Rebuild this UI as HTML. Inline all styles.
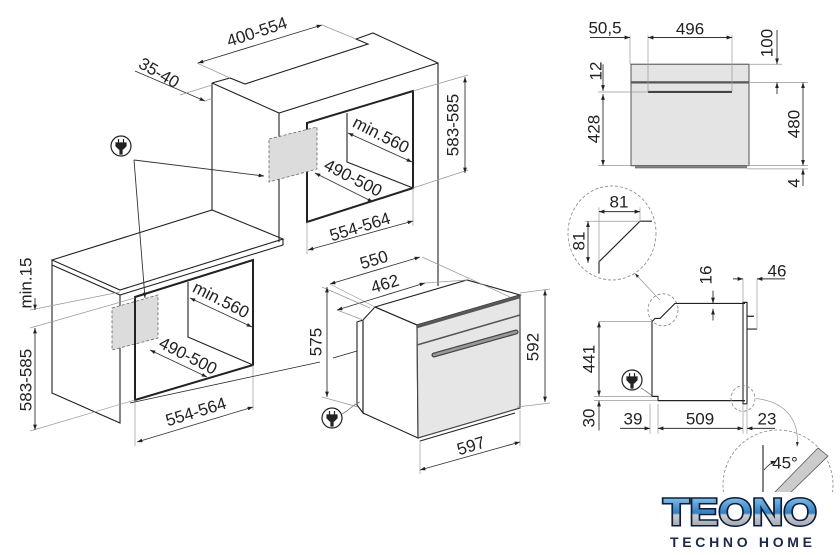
<!DOCTYPE html>
<html><head><meta charset="utf-8"><style>
html,body{margin:0;padding:0;background:#fff;}
svg{display:block;}
text{font-family:"Liberation Sans",sans-serif;font-size:17px;fill:#222;text-anchor:middle;dominant-baseline:central;}
.o{fill:none;stroke:#222;stroke-width:1.1;}
.t{fill:none;stroke:#222;stroke-width:2;}
.d{fill:none;stroke:#333;stroke-width:0.9;}
.e{fill:none;stroke:#999;stroke-width:0.7;}
.g{fill:#dcdcdc;stroke:#666;stroke-width:0.8;stroke-dasharray:3,2;}
.c{fill:none;stroke:#888;stroke-width:0.8;stroke-dasharray:3,2;}
</style></head><body>
<svg width="840" height="555" viewBox="0 0 840 555" xmlns="http://www.w3.org/2000/svg">
<defs>
<marker id="a" viewBox="0 0 10 10" refX="10" refY="5" markerWidth="6" markerHeight="6" orient="auto-start-reverse"><path d="M0,1.5 L10,5 L0,8.5 Z" fill="#222"/></marker>
<linearGradient id="lg" x1="0" y1="0" x2="0" y2="1"><stop offset="0" stop-color="#9fd3f5"/><stop offset="0.5" stop-color="#2f7fc0"/><stop offset="0.55" stop-color="#c9ccd0"/><stop offset="1" stop-color="#8a9096"/></linearGradient>
<g id="plug"><circle r="10" fill="#fff" stroke="#222" stroke-width="1.2"/><path d="M-2.5,-7 v4 M2.5,-7 v4 M-5,-3 h10 v3 l-3,3 h-4 l-3,-3 z M-1,3 v5 h2 v-5" fill="#222" stroke="#222" stroke-width="1.2"/></g>
</defs>

<!-- upper cabinet -->
<path class="o" d="M212,83 L230,78 L245,84 L368,44 L356,39 L373,33 L438,63 L438,286"/>
<path class="o" d="M212,83 L279,113 L438,63 M212,83 L212,210 M279,113 L279,242"/>
<polygon class="t" points="307,123 413,91 413,188 307,222"/>
<path class="o" d="M347,113 L347,162 L413,188"/>
<polygon class="g" points="269,139 317,127 317,169 269,182"/>

<!-- countertop + lower cabinet -->
<path class="o" d="M52,260 L212,210 L283,239 L120,290 Z M52,260 L52,265 L120,295 L283,245 L283,239"/>
<path class="o" d="M52,265 L52,393 L120,423 L120,295"/>
<polygon class="g" points="112,308 158,295 158,338 112,350"/>
<polygon class="t" points="135,297 253,260 253,365 135,400"/>
<path class="o" d="M188,282 L188,337 L253,365"/>

<use href="#plug" x="121" y="146"/>
<path class="d" d="M134,160 L264,176" marker-end="url(#a)"/>
<path class="d" d="M134,160 L145,298" marker-end="url(#a)"/>

<!-- upper dims -->
<path class="e" d="M197,63 L230,78 M322,25 L356,39"/>
<path class="d" d="M198,63 L322,25" marker-start="url(#a)" marker-end="url(#a)"/>
<text x="257" y="32" transform="rotate(-18 257 32)">400-554</text>
<path class="d" d="M135,71 L205,101" marker-end="url(#a)"/>
<path class="e" d="M180,95 L212,85 M205,101 L213,98"/>
<text x="159" y="73" transform="rotate(30 159 73)">35-40</text>
<path class="e" d="M413,91 L468,75 M413,188 L468,170"/>
<path class="d" d="M465,77 L465,173" marker-start="url(#a)" marker-end="url(#a)"/>
<text x="453" y="125" transform="rotate(-90 453 125)">583-585</text>
<path class="d" d="M348,133 L412,162" marker-start="url(#a)" marker-end="url(#a)"/>
<text x="381" y="135" transform="rotate(27 381 135)">min.560</text>
<path class="d" d="M315,173 L373,202" marker-start="url(#a)" marker-end="url(#a)"/>
<text x="353" y="178" transform="rotate(27 353 178)">490-500</text>
<path class="e" d="M307,222 L307,254 M413,188 L413,226"/>
<path class="d" d="M308,250 L413,221" marker-start="url(#a)" marker-end="url(#a)"/>
<text x="360" y="227" transform="rotate(-17 360 227)">554-564</text>

<!-- lower dims -->
<path class="e" d="M30,310 L120,292 M30,328 L135,298 M30,431 L135,400"/>
<path class="d" d="M35,298 L35,310" marker-end="url(#a)"/>
<path class="d" d="M35,328 L35,430" marker-start="url(#a)" marker-end="url(#a)"/>
<text x="26" y="283" transform="rotate(-90 26 283)">min.15</text>
<text x="26" y="380" transform="rotate(-90 26 380)">583-585</text>
<path class="d" d="M190,298 L252,327" marker-start="url(#a)" marker-end="url(#a)"/>
<text x="221" y="300" transform="rotate(27 221 300)">min.560</text>
<path class="d" d="M150,350 L207,377" marker-start="url(#a)" marker-end="url(#a)"/>
<text x="188" y="356" transform="rotate(27 188 356)">490-500</text>
<path class="e" d="M135,400 L135,446 M253,365 L253,410"/>
<path class="d" d="M137,442 L253,407" marker-start="url(#a)" marker-end="url(#a)"/>
<text x="196" y="412" transform="rotate(-17 196 412)">554-564</text>
<path class="o" d="M130,403 L320,362 M333,358 L357,351" style="stroke-width:0.8"/>

<!-- oven -->
<path class="o" d="M357,322 L363,320 L363,413 L357,405 Z" fill="#f4f4f4"/>
<polygon class="o" points="363,320 375,307 417,325 418,438 363,413" fill="#fff"/>
<polygon class="o" points="375,307 467,280 520,295 417,325" fill="#fff"/>
<polygon points="417,325 520,295 520,408 418,438" fill="#e6e6e6" stroke="#444" stroke-width="1.2"/>
<path d="M417,327 L520,297" stroke="#555" stroke-width="2.5"/>
<path d="M417,345 L520,315" stroke="#555" stroke-width="1.5"/>
<path d="M434,355 L516,332" stroke="#444" stroke-width="5" stroke-linecap="round"/>
<path d="M434,355 L516,332" stroke="#999" stroke-width="2.5" stroke-linecap="round"/>
<path class="o" d="M420,441 L515,413"/>
<use href="#plug" x="332" y="418"/>
<path d="M342,414 C350,410 352,405 360,402" fill="none" stroke="#777" stroke-width="0.8"/>
<path class="e" d="M422,257 L510,297 M330,284 L375,307 M337,310 L363,320 M425,283 L467,280"/>
<path class="d" d="M330,284 L420,257" marker-start="url(#a)" marker-end="url(#a)"/>
<text x="374" y="260" transform="rotate(-17 374 260)">550</text>
<path class="d" d="M337,310 L425,283" marker-start="url(#a)" marker-end="url(#a)"/>
<text x="385" y="284" transform="rotate(-17 385 284)">462</text>
<path class="e" d="M322,287 L370,308 M322,397 L358,407"/>
<path class="d" d="M327,287 L327,397" marker-start="url(#a)" marker-end="url(#a)"/>
<text x="316" y="342" transform="rotate(-90 316 342)">575</text>
<path class="e" d="M520,293 L550,289 M517,407 L550,403"/>
<path class="d" d="M545,290 L545,402" marker-start="url(#a)" marker-end="url(#a)"/>
<text x="533" y="347" transform="rotate(-90 533 347)">592</text>
<path class="e" d="M420,440 L420,474 M520,410 L520,446"/>
<path class="d" d="M420,470 L520,442" marker-start="url(#a)" marker-end="url(#a)"/>
<text x="471" y="446" transform="rotate(-17 471 446)">597</text>

<!-- right panel shapes (vertically rescaled) -->
<g transform="translate(0,-2) scale(1,1.068)">
<rect x="631" y="62" width="118" height="95" fill="#e4e4e4" stroke="#555" stroke-width="1"/>
<path d="M631,79 L749,79" stroke="#555" stroke-width="2"/>
<path d="M648,88 L732,88" stroke="#444" stroke-width="2"/>
<path d="M635,158.5 L747,158.5" stroke="#777" stroke-width="2"/>
<path class="e" d="M630,35 L630,62 M648,35 L648,88 M732,35 L732,88 M750,62 L782,62 M750,79 L808,79 M747,157 L808,157 M747,160 L808,160 M598,88 L648,88 M598,157 L631,157"/>
<path class="d" d="M590,37 L630,37" marker-end="url(#a)"/>
<path class="d" d="M648,37 L732,37" marker-start="url(#a)" marker-end="url(#a)"/>
<path class="d" d="M777,30 L777,62" marker-end="url(#a)"/>
<path class="d" d="M777,90 L777,79" marker-end="url(#a)"/>
<path class="d" d="M803,79 L803,157" marker-start="url(#a)" marker-end="url(#a)"/>
<path class="d" d="M803,176 L803,160" marker-end="url(#a)"/>
<path class="d" d="M603,62 L603,87" marker-end="url(#a)"/>
<path class="d" d="M603,90 L603,157" marker-start="url(#a)" marker-end="url(#a)"/>

<circle class="c" cx="612" cy="220" r="44"/>
<path class="o" d="M652,209 L640,209 L599,247 L599,258"/>
<path class="e" d="M599,196 L599,247 M585,209 L640,209 M640,196 L640,209"/>
<path class="d" d="M599,200 L640,200" marker-start="url(#a)" marker-end="url(#a)"/>
<path class="d" d="M588,209 L588,248" marker-start="url(#a)" marker-end="url(#a)"/>
<path class="e" d="M660,283 L635,258" marker-end="url(#a)"/>

<circle class="c" cx="663" cy="292" r="15"/>
<path class="o" d="M745,286 L675,286 L660,300 L655,300 L652,303 L652,373 L658,373 L658,377 L745,377"/>
<path class="o" d="M743,285 L747,285 L747,380 L743,380 Z M747,298 L754,298 M747,310 L757,310"/>
<path class="e" d="M757,263 L757,310 M743,263 L743,285 M599,303 L652,303 M594,373 L652,373 M594,377 L658,377 M650,380 L650,408 M658,380 L658,408 M743,380 L743,408 M747,380 L747,408"/>
<path class="d" d="M713,274 L713,286" marker-end="url(#a)"/>
<path class="d" d="M713,302 L713,291" marker-end="url(#a)"/>
<path class="d" d="M733,263 L743,263" marker-end="url(#a)"/>
<path class="d" d="M785,263 L757,263" marker-end="url(#a)"/>
<path class="d" d="M599,303 L599,373" marker-start="url(#a)" marker-end="url(#a)"/>
<path class="d" d="M599,405 L599,377" marker-end="url(#a)"/>
<path class="d" d="M620,403 L650,403" marker-end="url(#a)"/>
<path class="d" d="M658,403 L743,403" marker-start="url(#a)" marker-end="url(#a)"/>
<path class="d" d="M775,403 L747,403" marker-end="url(#a)"/>
<path d="M641,365 C645,368 650,370 652,373" fill="none" stroke="#777" stroke-width="0.8"/>
<circle class="c" cx="743" cy="375" r="12"/>
<path class="e" d="M756,375 C785,378 800,395 797,420" marker-end="url(#a)"/>
</g>
<use href="#plug" x="632" y="380"/>

<!-- right panel texts -->
<text x="605" y="28">50,5</text>
<text x="690" y="29">496</text>
<text x="767" y="43" transform="rotate(-90 767 43)">100</text>
<text x="794" y="124" transform="rotate(-90 794 124)">480</text>
<text x="794" y="183" transform="rotate(-90 794 183)">4</text>
<text x="596" y="71" transform="rotate(-90 596 71)">12</text>
<text x="594" y="129" transform="rotate(-90 594 129)">428</text>
<text x="619" y="202">81</text>
<text x="579" y="241" transform="rotate(-90 579 241)">81</text>
<text x="706" y="275" transform="rotate(-90 706 275)">16</text>
<text x="777" y="271">46</text>
<text x="589" y="359" transform="rotate(-90 589 359)">441</text>
<text x="589" y="418" transform="rotate(-90 589 418)">30</text>
<text x="633" y="419">39</text>
<text x="700" y="419">509</text>
<text x="767" y="419">23</text>

<!-- bottom detail circle (partial) -->
<circle class="c" cx="778" cy="485" r="55"/>
<path class="o" d="M763,445 L763,495"/>
<path d="M772,495 L818,448 L828,456 L788,495 Z" fill="#ccc" stroke="#555" stroke-width="0.8"/>
<path class="d" d="M764,470 C768,465 773,462 776,461" marker-end="url(#a)"/>
<text x="785" y="463">45°</text>

<!-- logo -->
<rect x="650" y="492" width="190" height="63" fill="#fff"/>
<text x="740" y="513" style="font-size:38px;font-weight:bold;fill:url(#lg);stroke:#0d1c3a;stroke-width:3;paint-order:stroke;" textLength="154" lengthAdjust="spacingAndGlyphs">TEONO</text>
<text x="741" y="542" style="font-size:14px;font-weight:bold;fill:#1b2a4a;" textLength="142" lengthAdjust="spacing">TECHNO HOME</text>
</svg>
</body></html>
